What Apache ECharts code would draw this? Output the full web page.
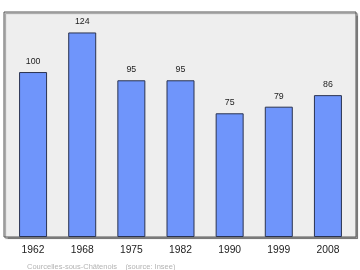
<!DOCTYPE html>
<html><head><meta charset="utf-8">
<script src="https://cdn.jsdelivr.net/npm/echarts@6/dist/echarts.min.js"></script>
<style>html,body{margin:0;padding:0;background:#fff}#c{width:360px;height:270px}</style>
</head><body><div id="c"></div>
<script>
var years = ['1962','1968','1975','1982','1990','1999','2008'];
var population = [100,124,95,95,75,79,86];
var footer = 'Courcelles-sous-Châtenois    (source: Insee)';
var chart = echarts.init(document.getElementById('c'));
chart.setOption({
  animation: false,
  title: {text: footer, left: 22, top: 258, textStyle: {fontSize: 7.5, fontWeight: 'normal', color: '#b3b3b3', fontFamily: 'Liberation Sans'}},
  grid: [
    {left: 4, right: 4, top: 12, bottom: 33, show: true, backgroundColor: '#eeeeee', borderColor: '#555', borderWidth: 1,
     shadowColor: 'rgba(0,0,0,0.35)', shadowOffsetX: 1.5, shadowOffsetY: 1.5, shadowBlur: 1},
    {left: 8.5, right: 7.5, top: 12, bottom: 33}
  ],
  xAxis: [
    {gridIndex: 0, type: 'value', show: false},
    {gridIndex: 1, type: 'category', data: years, axisLine: {show: false}, axisTick: {show: false},
     axisLabel: {fontSize: 10.3, color: '#222', margin: 8, fontFamily: 'Liberation Sans'}}
  ],
  yAxis: [
    {gridIndex: 0, type: 'value', show: false, splitLine: {show: false}},
    {gridIndex: 1, type: 'value', min: 0, max: 136.4, show: false, splitLine: {show: false}}
  ],
  series: [{type: 'bar', xAxisIndex: 1, yAxisIndex: 1, data: population, barWidth: 28,
    itemStyle: {color: '#6f95fb', borderColor: '#2a3350', borderWidth: 1},
    label: {show: true, position: 'top', distance: 6, fontSize: 8.8, color: '#222', fontFamily: 'Liberation Sans'}}]
});
</script></body></html>
